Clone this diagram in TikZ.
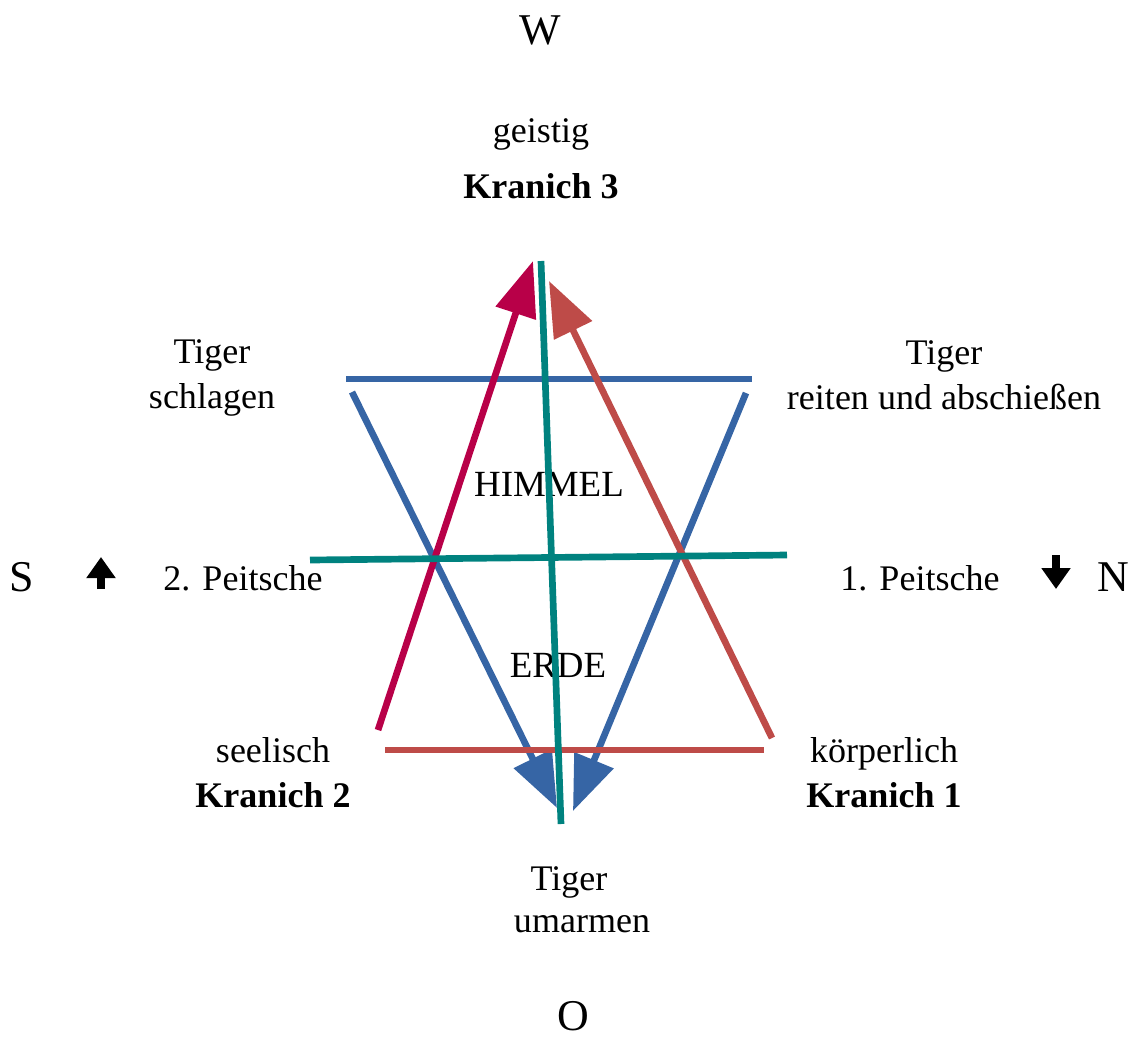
\documentclass[tikz,border=0pt]{standalone}
\usepackage{fontspec}
\setmainfont{Liberation Serif}
\usetikzlibrary{arrows.meta,positioning}

\definecolor{blau}{RGB}{54,101,165}
\definecolor{karmin}{RGB}{184,0,72}
\definecolor{ziegel}{RGB}{190,75,72}
\definecolor{petrol}{RGB}{0,130,127}

\begin{document}
\begin{tikzpicture}[
  x=0.02cm,y=-0.02cm,
  lbl/.style={align=center,inner sep=0pt,font=\fontsize{20.5}{25.5}\selectfont},
  himmel/.style={lbl,font=\fontsize{21}{25}\selectfont},
  richtung/.style={inner sep=0pt,font=\fontsize{25}{30}\selectfont},
  bar/.style={line width=3.8pt},
  pfeil/.style={line width=3.8pt,-{Triangle[length=1.1cm,width=0.82cm]}},
  mini/.style={line width=4.5pt,-{Triangle[length=0.42cm,width=0.56cm]}}
]
  \useasboundingbox (0,0) rectangle (1140,1036);

  % compass
  \node[richtung] (west) at (540,30) {W};
  \node[richtung] (ost) at (573,1016) {O};
  \node[richtung] (sued) at (22,577) {S};
  \node[richtung] (nord) at (1113,577) {N};

  % labels
  \node[lbl] (geistig) at (541,134) {geistig};
  \node[lbl,below=13pt of geistig.south] (kranich3) {\textbf{Kranich 3}};
  \node[lbl] (schlagen) at (212,378) {Tiger\\schlagen};
  \node[lbl] (reiten) at (944,375) {Tiger\\reiten und abschießen};
  \node[himmel] (himmeltxt) at (549,484) {HIMMEL};
  \node[himmel] (erdetxt) at (558,665) {ERDE};
  \node[lbl] (peitsche2) at (243,578) {2. Peitsche};
  \node[lbl] (peitsche1) at (920,578) {1. Peitsche};
  \node[lbl] (seelisch) at (273,773) {seelisch\\\textbf{Kranich 2}};
  \node[lbl] (koerper) at (884,773) {körperlich\\\textbf{Kranich 1}};
  \node[lbl] (tiger) at (569,882) {Tiger};
  \node[lbl] (umarmen) at (582,924) {umarmen};

  % end points
  \coordinate (blauL) at (346,379);
  \coordinate (blauR) at (752,379);
  \coordinate (diagLo) at (352,392);
  \coordinate (diagLu) at (557,808);
  \coordinate (diagRo) at (746,393);
  \coordinate (diagRu) at (573,811);
  \coordinate (rotL) at (385,750);
  \coordinate (rotR) at (764,750);
  \coordinate (karU) at (378,730);
  \coordinate (karO) at (533,261);
  \coordinate (zieU) at (772,738);
  \coordinate (zieO) at (549,281);
  \coordinate (petO) at (541,261);
  \coordinate (petU) at (561,824);
  \coordinate (petL) at (310,560);
  \coordinate (petR) at (787,555);
  \coordinate (aufU) at (101,589);
  \coordinate (aufO) at (101,557);
  \coordinate (abO) at (1056,555);
  \coordinate (abU) at (1056,589);

  % triangles
  \draw[bar,blau] (blauL) -- (blauR);
  \draw[pfeil,blau] (diagLo) -- (diagLu);
  \draw[pfeil,blau] (diagRo) -- (diagRu);
  \draw[bar,ziegel] (rotL) -- (rotR);
  \draw[pfeil,karmin] (karU) -- (karO);
  \draw[pfeil,ziegel] (zieU) -- (zieO);

  % cross
  \draw[bar,petrol] (petO) -- (petU);
  \draw[bar,petrol] (petL) -- (petR);

  % small arrows
  \draw[mini] (aufU) -- (aufO);
  \draw[mini] (abO) -- (abU);
\end{tikzpicture}
\end{document}
